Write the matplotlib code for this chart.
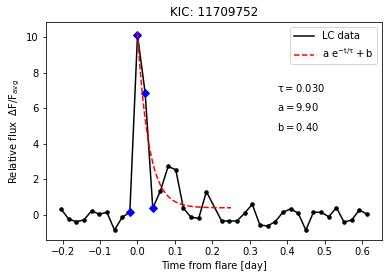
import numpy as np
import matplotlib
matplotlib.use('Agg')
import matplotlib.pyplot as plt

plt.rcParams['mathtext.default'] = 'regular'

# Kepler long cadence, cadence index relative to flare peak (k=10 missing)
cadence = 0.02043
k = [-10, -9, -8, -7, -6, -5, -4, -3, -2, -1, 0, 1, 2, 3, 4, 5, 6, 7, 8, 9,
     11, 12, 13, 14, 15, 16, 17, 18, 19, 20, 21, 22, 23, 24, 25, 26, 27, 28, 29, 30]
flux = [0.34, -0.23, -0.38, -0.28, 0.23, 0.04, 0.15, -0.85, -0.13, 0.15,
        10.13, 6.89, 0.38, 1.36, 2.73, 2.55, 0.38, -0.13, -0.19, 1.31,
        -0.34, -0.34, -0.34, 0.10, 0.60, -0.57, -0.62, -0.38, 0.15, 0.34,
        0.10, -0.85, 0.15, 0.15, -0.10, 0.41, -0.41, -0.28, 0.28, 0.04]
flare_idx = [-1, 0, 1, 2]

tau = 0.030
a = 9.90
b = 0.40

t = np.array(k) * cadence
flux = np.array(flux)
mask = np.isin(k, flare_idx)

fig, ax = plt.subplots(figsize=(387 / 72, 278 / 72), dpi=72)
fig.subplots_adjust(left=0.118, right=0.988, bottom=0.137, top=0.92)

ax.plot(t, flux, 'k-', lw=1.5, label='LC data')
ax.plot(t, flux, 'ko', ms=3.5)
ax.plot(t[mask], flux[mask], 'bD', ms=5.5)
tfit = np.linspace(0, 0.25, 200)
ax.plot(tfit, a * np.exp(-tfit / tau) + b, 'r--', lw=1.5,
        label=r'$a\ e^{-t/\tau} + b$')

ax.text(0.372, 7.17, r'$\tau = %.3f$' % tau, va='center')
ax.text(0.372, 6.07, r'$a = %.2f$' % a, va='center')
ax.text(0.372, 4.96, r'$b = %.2f$' % b, va='center')

ax.set_xlabel('Time from flare [day]')
ax.set_ylabel(r'Relative flux  $\Delta F/F_{avg}$')
ax.set_title('KIC: 11709752')
ax.legend(loc='upper right')

fig.savefig('out.png', dpi=72)
